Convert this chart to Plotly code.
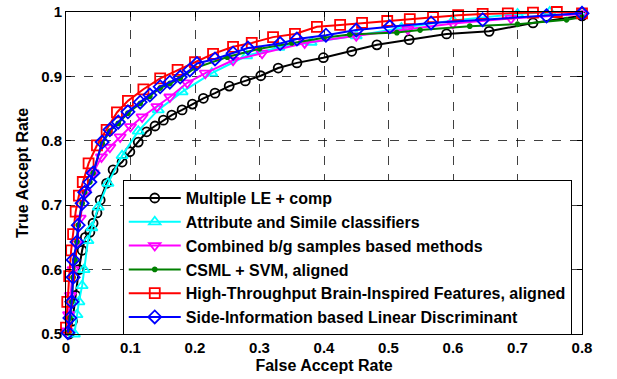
import plotly.graph_objects as go

# ---- data ----
names = [
    "Multiple LE + comp",
    "Attribute and Simile classifiers",
    "Combined b/g samples based methods",
    "CSML + SVM, aligned",
    "High-Throughput Brain-Inspired Features, aligned",
    "Side-Information based Linear Discriminant",
]

le_far = [0.005, 0.01, 0.015, 0.02, 0.025, 0.03, 0.037, 0.042, 0.048, 0.053, 0.063, 0.073, 0.087, 0.099,
          0.112, 0.125, 0.138, 0.151, 0.164, 0.180, 0.196, 0.213, 0.231, 0.253, 0.278, 0.302, 0.329,
          0.358, 0.399, 0.443, 0.482, 0.532, 0.590, 0.656, 0.724, 0.8]
le_tar = [0.5, 0.52, 0.56, 0.6, 0.63, 0.65, 0.658, 0.672, 0.688, 0.708, 0.734, 0.755, 0.767, 0.783,
          0.798, 0.814, 0.823, 0.832, 0.840, 0.848, 0.857, 0.866, 0.874, 0.885, 0.893, 0.901, 0.913,
          0.921, 0.929, 0.939, 0.949, 0.957, 0.966, 0.970, 0.983, 0.994]

att_far = [0.013, 0.017, 0.02, 0.025, 0.028, 0.034, 0.040, 0.05, 0.065, 0.087, 0.112, 0.143, 0.18,
           0.226, 0.28, 0.33, 0.38, 0.45, 0.52, 0.6, 0.7, 0.75, 0.8]
att_tar = [0.5, 0.53, 0.55, 0.575, 0.6, 0.645, 0.665, 0.697, 0.734, 0.777, 0.815, 0.848, 0.876,
           0.905, 0.932, 0.945, 0.953, 0.963, 0.975, 0.987, 0.997, 1.0, 1.0]

comb_far = [0.001, 0.004, 0.007, 0.011, 0.016, 0.022, 0.03, 0.042, 0.055, 0.068, 0.084, 0.1, 0.118,
            0.141, 0.161, 0.188, 0.216, 0.259, 0.304, 0.37, 0.45, 0.53, 0.6, 0.69, 0.8]
comb_tar = [0.505, 0.53, 0.56, 0.6, 0.64, 0.68, 0.72, 0.75, 0.775, 0.79, 0.806, 0.822, 0.837,
            0.853, 0.868, 0.89, 0.905, 0.925, 0.936, 0.952, 0.963, 0.973, 0.982, 0.99, 0.997]

csml_far = [0.003, 0.006, 0.009, 0.011, 0.014, 0.017, 0.019, 0.025, 0.029, 0.037, 0.042, 0.056, 0.068,
            0.081, 0.096, 0.115, 0.130, 0.146, 0.161, 0.177, 0.2, 0.25, 0.3, 0.35, 0.4, 0.44, 0.513,
            0.549, 0.626, 0.70, 0.776, 0.8]
csml_tar = [0.502, 0.525, 0.55, 0.588, 0.615, 0.643, 0.669, 0.703, 0.72, 0.736, 0.75, 0.796, 0.815,
            0.827, 0.843, 0.858, 0.869, 0.882, 0.889, 0.897, 0.913, 0.93, 0.943, 0.952, 0.96, 0.965, 0.968,
            0.972, 0.978, 0.981, 0.988, 0.992]

ht_far = [0.0, 0.002, 0.005, 0.008, 0.011, 0.015, 0.02, 0.026, 0.035, 0.048, 0.063, 0.079, 0.096,
          0.12, 0.146, 0.173, 0.2, 0.228, 0.259, 0.288, 0.321, 0.355, 0.389, 0.425, 0.459, 0.498,
          0.533, 0.569, 0.608, 0.646, 0.685, 0.724, 0.761, 0.8]
ht_tar = [0.51, 0.55, 0.59, 0.63, 0.655, 0.69, 0.715, 0.736, 0.765, 0.793, 0.817, 0.844, 0.862,
          0.88, 0.897, 0.91, 0.922, 0.935, 0.946, 0.952, 0.961, 0.966, 0.977, 0.980, 0.983, 0.986,
          0.989, 0.992, 0.995, 0.997, 0.998, 0.999, 1.0, 0.998]

sild_far = [0.003, 0.006, 0.009, 0.011, 0.011, 0.017, 0.019, 0.025, 0.029, 0.037, 0.042, 0.056, 0.068,
            0.081, 0.096, 0.115, 0.130, 0.146, 0.161, 0.177, 0.192, 0.203, 0.231, 0.259, 0.282, 0.332,
            0.358, 0.403, 0.45, 0.502, 0.566, 0.646, 0.745, 0.8]
sild_tar = [0.502, 0.525, 0.55, 0.588, 0.615, 0.643, 0.669, 0.703, 0.72, 0.736, 0.75, 0.798, 0.817,
            0.829, 0.845, 0.860, 0.871, 0.884, 0.891, 0.899, 0.910, 0.920, 0.927, 0.936, 0.944, 0.951,
            0.958, 0.964, 0.972, 0.977, 0.983, 0.988, 0.994, 0.998]

x_ticks = [0, 0.1, 0.2, 0.3, 0.4, 0.5, 0.6, 0.7, 0.8]
x_tick_labels = ["0", "0.1", "0.2", "0.3", "0.4", "0.5", "0.6", "0.7", "0.8"]
y_ticks = [0.5, 0.6, 0.7, 0.8, 0.9, 1.0]
y_tick_labels = ["0.5", "0.6", "0.7", "0.8", "0.9", "1"]

series = [
    (le_far, le_tar, "#000000", "circle-open", 9),
    (att_far, att_tar, "#00FFFF", "triangle-up-open", 10),
    (comb_far, comb_tar, "#FF00FF", "triangle-down-open", 10),
    (csml_far, csml_tar, "#008000", "circle", 4),
    (ht_far, ht_tar, "#FF0000", "square-open", 10),
    (sild_far, sild_tar, "#0000FF", "diamond-open", 10),
]

FONT = "Liberation Sans, Arial, sans-serif"

fig = go.Figure()
for name, (xs, ys, col, sym, sz) in zip(names, series):
    fig.add_trace(go.Scatter(
        x=xs, y=ys, name=name, mode="lines+markers",
        line=dict(color=col, width=2),
        marker=dict(symbol=sym, size=sz, color=col, line=dict(color=col, width=1.8)),
        cliponaxis=False,
    ))

axis_common = dict(
    showline=True, linecolor="black", linewidth=1, mirror="ticks",
    ticks="inside", ticklen=5, tickcolor="black",
    showgrid=True, gridcolor="rgba(0,0,0,0.75)", griddash="dash", gridwidth=1,
    zeroline=False, automargin=False,
    tickfont=dict(family=FONT, size=15, color="black", weight="bold"),
    title_font=dict(family=FONT, size=16, color="black", weight="bold"),
)

fig.update_xaxes(range=[0, 0.8], tickvals=x_ticks, ticktext=x_tick_labels,
                 title_text="False Accept Rate", title_standoff=4, **axis_common)
fig.update_yaxes(range=[0.5, 1.0], tickvals=y_ticks, ticktext=y_tick_labels,
                 title_text="True Accept Rate", title_standoff=8, **axis_common)

fig.update_layout(
    width=617, height=379,
    margin=dict(l=66, r=35, t=12, b=45),
    paper_bgcolor="white", plot_bgcolor="white",
    showlegend=True,
    legend=dict(
        x=0.110, y=0.478, xanchor="left", yanchor="top",
        bgcolor="white", bordercolor="black", borderwidth=1,
        font=dict(family=FONT, size=16, color="black", weight="bold"),
        itemwidth=52, tracegroupgap=0,
    ),
)

fig.write_html("out.html", config={"displayModeBar": False},
               post_script="document.body.style.margin='0';")
